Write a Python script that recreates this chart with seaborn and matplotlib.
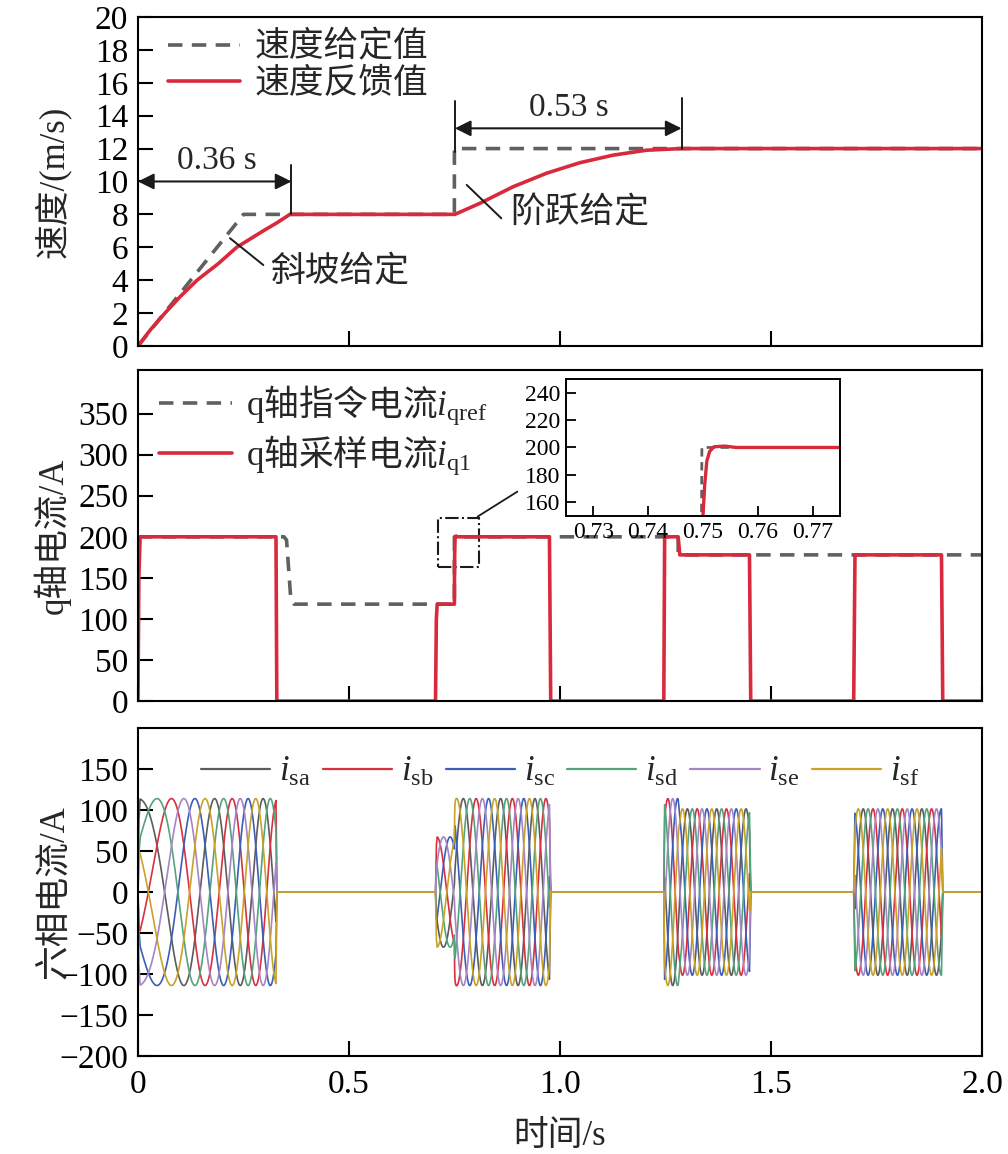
import numpy as np
import pandas as pd
import matplotlib
matplotlib.use("Agg")
import matplotlib.pyplot as plt
from matplotlib.lines import Line2D
from matplotlib.patches import Rectangle
import seaborn as sns

# ---------------- data ----------------
# speed panel (m/s vs s)
spd_ref_t = [0.0, 0.25, 0.7497, 0.7498, 2.0]
spd_ref_v = [0.0, 8.0, 8.0, 12.0, 12.0]
spd_fb_t = [0.0, 0.03, 0.064, 0.10, 0.14, 0.19, 0.234, 0.297, 0.33, 0.36,
            0.751, 0.81, 0.889, 0.968, 1.047, 1.126, 1.205, 1.288, 2.0]
spd_fb_v = [0.0, 1.0, 2.0, 3.0, 4.0, 5.0, 6.0, 7.0, 7.5, 8.0,
            8.0, 8.67, 9.68, 10.5, 11.14, 11.6, 11.9, 12.0, 12.0]

# q-axis current panel (A vs s)
iq_ref_t = [0.0, 0.346, 0.352, 0.362, 0.370, 0.7497, 0.7498, 1.280, 1.2801, 2.0]
iq_ref_v = [200, 200, 196, 125, 118, 118, 200, 200, 178, 178]
iq_fb_t = [0.0, 0.002, 0.005, 0.327, 0.329, 0.705, 0.707, 0.709, 0.7498,
           0.7500, 0.7503, 0.7507, 0.7512, 0.7520, 0.7540, 0.7560,
           0.975, 0.978, 1.246, 1.248, 1.280, 1.284, 1.449, 1.452,
           1.696, 1.699, 1.904, 1.907, 2.0]
iq_fb_v = [0, 150, 200, 200, 0, 0, 100, 118, 118,
           150, 172, 190, 197, 200.5, 201, 200,
           200, 0, 0, 200, 200, 178, 178, 0,
           0, 178, 178, 0, 0]

# six-phase currents: parameters
phase_names = ["sa", "sb", "sc", "sd", "se", "sf"]
phase_colors = ["#5c5c5c", "#d8303f", "#3b5fb5", "#55a37b", "#a585c6", "#c9a227"]
phase_shift_deg = [0, -120, -240, -60, -180, -300]
amp_per_iq = 0.57          # peak phase current per A of iq (114 A at iq = 200 A)
slip_freq = 3.0            # Hz
freq_per_speed = 0.95      # Hz per m/s
start_angle_deg = 90

# tick labels
x_ticks = [0, 0.5, 1.0, 1.5, 2.0]
x_ticklabels = ["0", "0.5", "1.0", "1.5", "2.0"]
spd_ticks = list(range(0, 21, 2))
iq_ticks = list(range(0, 351, 50))
ph_ticks = list(range(-200, 151, 50))
inset_xticks = [0.73, 0.74, 0.75, 0.76, 0.77]
inset_yticks = [160, 180, 200, 220, 240]

RED = "#d9293c"
GRAY = "#606060"

# ---------------- style ----------------
sns.set_theme(style="ticks")
plt.rcParams.update({
    "font.family": ["Liberation Serif", "Noto Sans CJK SC"],
    "mathtext.fontset": "custom",
    "mathtext.rm": "Liberation Serif",
    "mathtext.it": "Liberation Serif:italic",
    "xtick.direction": "in", "ytick.direction": "in",
    "axes.linewidth": 1.5, "axes.edgecolor": "black",
    "xtick.major.size": 11, "ytick.major.size": 11,
    "xtick.major.width": 1.5, "ytick.major.width": 1.5,
    "xtick.color": "black", "ytick.color": "black",
    "axes.unicode_minus": True,
})

fig = plt.figure(figsize=(10.08, 11.54), dpi=100)
FS_TICK = 24
FS_TXT = 25

ax1 = fig.add_axes([0.1369, 0.7002, 0.8373, 0.2851])
ax2 = fig.add_axes([0.1369, 0.3925, 0.8373, 0.2868])
ax4 = fig.add_axes([0.1369, 0.0849, 0.8373, 0.2842])
ax3 = fig.add_axes([0.5615, 0.5529, 0.2718, 0.1187])

dash = (0, (4, 2.6))

# ---------------- top: speed ----------------
sns.lineplot(x=spd_ref_t, y=spd_ref_v, ax=ax1, color=GRAY, lw=2.6, linestyle=dash,
             label="速度给定值", sort=False, estimator=None)
sns.lineplot(x=spd_fb_t, y=spd_fb_v, ax=ax1, color=RED, lw=2.6,
             label="速度反馈值", sort=False, estimator=None)
ax1.set_ylim(0, 20)
ax1.set_yticks(spd_ticks)
ax1.set_ylabel("速度/(m/s)", fontsize=FS_TXT)
ax1.legend(loc="upper left", bbox_to_anchor=(0.035, 0.955), frameon=False, fontsize=FS_TXT,
           handlelength=2.1, handletextpad=0.4, labelspacing=0.1, borderaxespad=0, borderpad=0)

arrow_kw = dict(arrowstyle="<|-|>", color="k", lw=1.5, mutation_scale=24, shrinkA=0, shrinkB=0)
ann_lw = 1.4
# ramp annotation
ax1.annotate("", xy=(0.0, 10.0), xytext=(0.3636, 10.0), arrowprops=arrow_kw)
ax1.plot([0.3636, 0.3636], [8.0, 11.0], color="k", lw=ann_lw)
ax1.text(0.186, 11.25, "0.36 s", ha="center", va="center", fontsize=FS_TICK)
ax1.plot([0.218, 0.297], [6.55, 4.92], color="k", lw=ann_lw)
ax1.text(0.479, 4.43, "斜坡给定", ha="center", va="center", fontsize=FS_TXT)
# step annotation
ax1.annotate("", xy=(0.751, 13.23), xytext=(1.288, 13.23), arrowprops=arrow_kw)
ax1.plot([0.751, 0.751], [11.8, 14.9], color="k", lw=ann_lw)
ax1.plot([1.288, 1.288], [12.0, 15.05], color="k", lw=ann_lw)
ax1.text(1.02, 14.5, "0.53 s", ha="center", va="center", fontsize=FS_TICK)
ax1.plot([0.779, 0.861], [9.79, 7.76], color="k", lw=ann_lw)
ax1.text(1.047, 8.07, "阶跃给定", ha="center", va="center", fontsize=FS_TXT)

# ---------------- middle: q-axis current ----------------
sns.lineplot(x=iq_ref_t, y=iq_ref_v, ax=ax2, color=GRAY, lw=2.6, linestyle=dash,
             label=r"$\mathrm{q}$轴指令电流$i_{\rm qref}$", sort=False, estimator=None)
sns.lineplot(x=iq_fb_t, y=iq_fb_v, ax=ax2, color=RED, lw=2.6,
             label=r"$\mathrm{q}$轴采样电流$i_{\rm q1}$", sort=False, estimator=None)
ax2.set_ylim(0, 403)
ax2.set_yticks(iq_ticks)
ax2.set_ylabel("q轴电流/A", fontsize=FS_TXT)
ax2.legend(loc="upper left", bbox_to_anchor=(0.025, 0.96), frameon=False,
           prop={"family": "Noto Sans CJK SC", "size": FS_TXT},
           handlelength=2.1, handletextpad=0.4, labelspacing=0.2, borderaxespad=0, borderpad=0)
ax2.add_patch(Rectangle((0.711, 163.8), 0.097, 59.0, fill=False, ec="k", lw=1.5, ls="-."))
ax2.plot([0.805, 0.899], [224.7, 255.0], color="k", lw=1.3)

# inset
sns.lineplot(x=iq_ref_t, y=iq_ref_v, ax=ax3, color=GRAY, lw=2.0, linestyle=(0, (3, 2)),
             sort=False, estimator=None, legend=False)
sns.lineplot(x=iq_fb_t, y=iq_fb_v, ax=ax3, color=RED, lw=2.4,
             sort=False, estimator=None, legend=False)
ax3.set_xlim(0.725, 0.775)
ax3.set_ylim(150, 250)
ax3.set_xticks(inset_xticks)
ax3.set_xticklabels([f"{v:.2f}" for v in inset_xticks])
ax3.set_yticks(inset_yticks)
ax3.tick_params(labelsize=17, length=7, width=1.3, pad=4)
ax3.set_xlabel("")
ax3.set_ylabel("")
for s in ax3.spines.values():
    s.set_linewidth(1.4)

# ---------------- bottom: six-phase currents ----------------
t = np.arange(0.0, 2.0, 0.0002)
v_t = np.interp(t, spd_fb_t, spd_fb_v)
iq_t = np.interp(t, iq_fb_t, iq_fb_v)
freq = slip_freq + freq_per_speed * v_t
theta = np.deg2rad(start_angle_deg) + 2 * np.pi * np.concatenate(
    [[0.0], np.cumsum(0.5 * (freq[1:] + freq[:-1]) * np.diff(t))])
amp = amp_per_iq * iq_t
frames = []
for name, sh in zip(phase_names, phase_shift_deg):
    frames.append(pd.DataFrame({"t": t, "i": amp * np.sin(theta + np.deg2rad(sh)), "phase": name}))
df = pd.concat(frames, ignore_index=True)
sns.lineplot(data=df, x="t", y="i", hue="phase", hue_order=phase_names, palette=phase_colors,
             lw=1.2, sort=False, estimator=None, legend=False, ax=ax4)
ax4.set_ylim(-200, 200)
ax4.set_yticks(ph_ticks)
ax4.set_ylabel("六相电流/A", fontsize=FS_TXT)
ax4.set_xlabel("时间/s", fontsize=FS_TXT, labelpad=14)
handles = [Line2D([], [], color=c, lw=1.6) for c in phase_colors]
labels = [rf"$i_{{\rm {n}}}$" for n in phase_names]
ax4.legend(handles, labels, loc="upper center", bbox_to_anchor=(0.5, 0.99), ncol=6, frameon=False,
           fontsize=FS_TXT, handlelength=2.0, handletextpad=0.25, columnspacing=0.35,
           borderaxespad=0.3)

for ax in (ax1, ax2, ax4):
    ax.set_xlim(0, 2.0)
    ax.set_xticks(x_ticks)
    ax.tick_params(labelsize=FS_TICK, pad=7)
    ax.yaxis.set_label_coords(-0.08, 0.5)
    for s in ax.spines.values():
        s.set_visible(True)
        s.set_linewidth(1.5)
ax4.tick_params(axis="x", pad=10)
ax1.set_xlabel("")
ax2.set_xlabel("")
ax1.tick_params(labelbottom=False)
ax2.tick_params(labelbottom=False)
ax4.set_xticklabels(x_ticklabels)

fig.savefig("out.png", dpi=100)
